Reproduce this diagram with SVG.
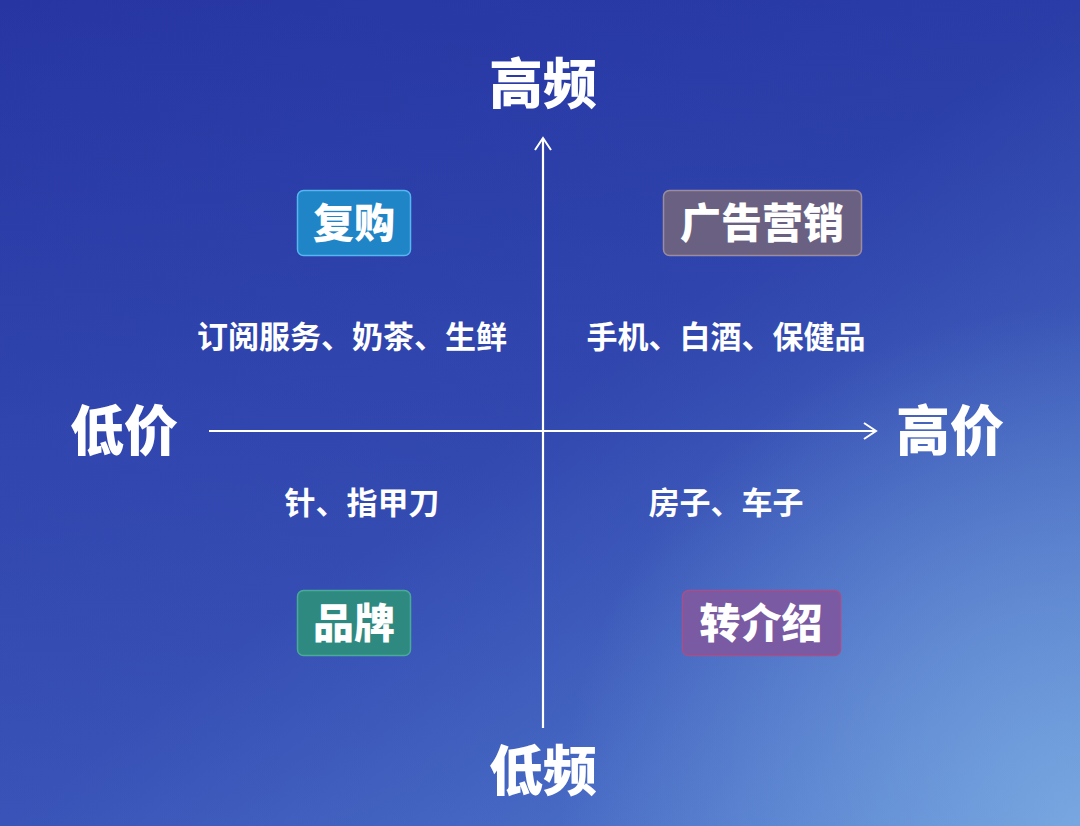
<svg xmlns="http://www.w3.org/2000/svg" width="1080" height="826" viewBox="0 0 1080 826">
<defs>
<linearGradient id="bg" x1="0" y1="0" x2="1" y2="1">
<stop offset="0" stop-color="#2b3ba8"/>
<stop offset="0.5" stop-color="#3046af"/>
<stop offset="1" stop-color="#5a8ad4"/>
</linearGradient>
<linearGradient id="bgv" x1="0" y1="0" x2="0" y2="1">
<stop offset="0" stop-color="#1e2a98" stop-opacity="0.35"/>
<stop offset="1" stop-color="#4a6cc8" stop-opacity="0.35"/>
</linearGradient>
<radialGradient id="glow" cx="1080" cy="826" r="520" gradientUnits="userSpaceOnUse">
<stop offset="0" stop-color="#80b0e4" stop-opacity="0.8"/>
<stop offset="1" stop-color="#80b0e4" stop-opacity="0"/>
</radialGradient>
<marker id="arr" viewBox="0 0 20 20" refX="18" refY="10" markerWidth="20" markerHeight="20" markerUnits="userSpaceOnUse" orient="auto">
<path d="M6,2 L18,10 L6,18" fill="none" stroke="#ffffff" stroke-width="2"/>
</marker>
<style>
.t{font-family:"Noto Sans CJK SC","Noto Sans",sans-serif;font-weight:900;fill:#ffffff;text-anchor:middle}
.axis{font-size:54px}
.lbl{font-size:31px;font-weight:700}
.box{font-size:41px}
.ax{stroke:#ffffff;stroke-width:2.2;fill:none}
</style>
</defs>
<rect width="1080" height="826" fill="url(#bg)"/>
<rect width="1080" height="826" fill="url(#bgv)"/>
<rect width="1080" height="826" fill="url(#glow)"/>
<g id="connectors">
<line class="ax" x1="543" y1="728" x2="543" y2="138" marker-end="url(#arr)"/>
<line class="ax" x1="209" y1="431" x2="876" y2="431" marker-end="url(#arr)"/>
</g>
<g id="axis-top"><text class="t axis" x="543" y="104">高频</text></g>
<g id="axis-bottom"><text class="t axis" x="543" y="791">低频</text></g>
<g id="axis-left"><text class="t axis" x="124" y="451">低价</text></g>
<g id="axis-right"><text class="t axis" x="950" y="451">高价</text></g>
<g id="box-fugou">
<rect x="297.5" y="190.5" width="113" height="65" rx="6" fill="#1f85c6" stroke="#55b6f0" stroke-width="1.5"/>
<text class="t box" x="354" y="238">复购</text>
</g>
<g id="box-guanggao">
<rect x="663.5" y="190.5" width="198" height="65" rx="6" fill="#6a6182" stroke="#9c8c9e" stroke-width="1.5"/>
<text class="t box" x="762" y="238">广告营销</text>
</g>
<g id="box-pinpai">
<rect x="297.5" y="590.5" width="113" height="65" rx="6" fill="#2e8a80" stroke="#4aaa98" stroke-width="1.5"/>
<text class="t box" x="354" y="638">品牌</text>
</g>
<g id="box-zhuanjieshao">
<rect x="682.5" y="590.5" width="158" height="65" rx="6" fill="#7a5aa2" stroke="#a4508c" stroke-width="1.5"/>
<text class="t box" x="761" y="638">转介绍</text>
</g>
<g id="lbl-tl"><text class="t lbl" x="352" y="348">订阅服务、奶茶、生鲜</text></g>
<g id="lbl-tr"><text class="t lbl" x="726" y="348">手机、白酒、保健品</text></g>
<g id="lbl-bl"><text class="t lbl" x="362" y="514">针、指甲刀</text></g>
<g id="lbl-br"><text class="t lbl" x="726" y="514">房子、车子</text></g>
</svg>
